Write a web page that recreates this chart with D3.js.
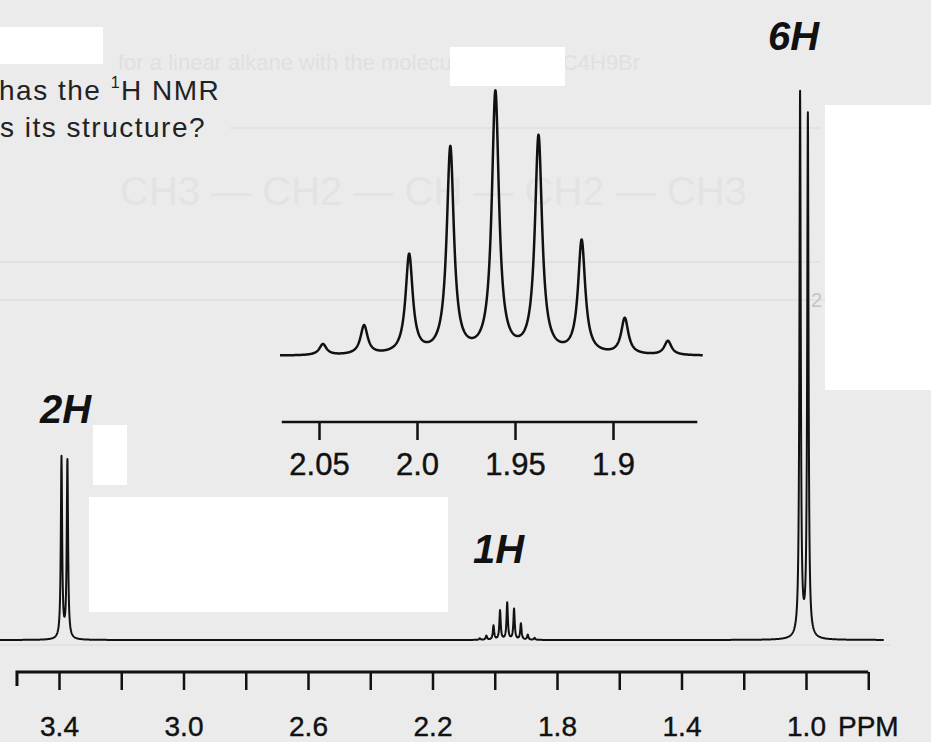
<!DOCTYPE html>
<html>
<head>
<meta charset="utf-8">
<script src="https://cdn.jsdelivr.net/npm/d3@7"></script>
<style>
  html, body { margin: 0; padding: 0; background: #ebebeb; }
  svg { display: block; font-family: "Liberation Sans", Arial, sans-serif; }
</style>
</head>
<body>
<div id="chart"></div>
<script>
// main spectrum: axis ticks and labels (ppm)
const tickPpm = [3.4, 3.2, 3.0, 2.8, 2.6, 2.4, 2.2, 2.0, 1.8, 1.6, 1.4, 1.2, 1.0, 0.8];
const labelPpm = [3.4, 3.0, 2.6, 2.2, 1.8, 1.4, 1.0];
// doublets (2H and 6H), heights in % of tallest line
const peakPpm = [3.392, 3.373, 1.019, 0.994];
const peakHeight = [33.3, 32.7, 100, 96];
// 1H multiplet (inset), heights in % of its tallest line
const multPpm = [2.048, 2.027, 2.004, 1.983, 1.960, 1.938, 1.916, 1.894, 1.872];
const multHeight = [4.2, 11.1, 37.9, 78.9, 100, 83.1, 43.3, 13.8, 5.4];
const multMainScale = 6.8;   // multiplet top in the main trace, % of full scale
// inset axis
const insetTicks = [2.05, 2.0, 1.95, 1.9];
// integration labels
const groupLabels = ["2H", "1H", "6H"];

const W = 931, H = 742;

const svg = d3.select("#chart").append("svg")
  .attr("width", W).attr("height", H);

// scanned page look
svg.append("rect").attr("width", W).attr("height", H).attr("fill", "#ebebeb");

const ghost = svg.append("g").attr("stroke", "none");
ghost.append("text").attr("x", 118).attr("y", 70).attr("font-size", 22)
  .attr("fill", "#e0e0e0")
  .text("for a linear alkane with the molecular formula C4H9Br");
ghost.append("text").attr("x", 120).attr("y", 205).attr("font-size", 40)
  .attr("fill", "#e3e3e3")
  .text("CH3 — CH2 — CH — CH2 — CH3");
[[230, 128, 820], [0, 262, 820], [0, 300, 830], [0, 645, 890]].forEach(([a, yy, b]) => {
  ghost.append("line").attr("x1", a).attr("x2", b).attr("y1", yy).attr("y2", yy)
    .attr("stroke", "#e2e2e2").attr("stroke-width", 2);
});
ghost.append("text").attr("x", 811).attr("y", 307).attr("font-size", 20)
  .attr("fill", "#c4c4c4").text("2");

// white cover patches
const patches = [[0, 27, 103, 37], [450, 47, 115, 39], [825, 105, 106, 285],
                 [93, 425, 34, 60], [89, 497, 359, 115]];
svg.selectAll("rect.patch").data(patches).enter().append("rect")
  .attr("class", "patch")
  .attr("x", d => d[0]).attr("y", d => d[1])
  .attr("width", d => d[2]).attr("height", d => d[3])
  .attr("fill", "#ffffff");

// question text
const q = svg.append("g").attr("font-size", 28).attr("fill", "#222")
  .attr("letter-spacing", 1.5);
const t1 = q.append("text").attr("x", -1).attr("y", 100);
t1.append("tspan").text("has the ");
t1.append("tspan").attr("font-size", 16).attr("dy", -12).text("1");
t1.append("tspan").attr("dy", 12).text("H NMR");
q.append("text").attr("x", 0).attr("y", 137).text("s its structure?");

// scales
const x = d3.scaleLinear().domain([1.0, 3.4]).range([806, 59]);
const y = d3.scaleLinear().domain([0, 100]).range([640, 96]);
const xi = d3.scaleLinear().domain([2.0, 1.9]).range([417, 613]);
const yi = d3.scaleLinear().domain([0, 100]).range([356, 95]);

function lorentz(ppm, centers, heights, hw) {
  let v = 0;
  for (let i = 0; i < centers.length; i++) {
    const u = (ppm - centers[i]) / hw;
    v += heights[i] / (1 + u * u);
  }
  return v;
}

function sampleTrace(scale, px0, px1, centers, heights, hw) {
  const ppms = d3.range(px0, px1, 0.25).map(px => scale.invert(px))
    .concat(centers.filter(c => scale(c) > px0 && scale(c) < px1));
  ppms.sort((a, b) => scale(a) - scale(b));
  return ppms.map(p => ({ ppm: p, v: lorentz(p, centers, heights, hw) }));
}

// main trace
const mainCenters = peakPpm.concat(multPpm);
const mainHeights = peakHeight.concat(multHeight.map(h => h * multMainScale / 100));
const mainPts = sampleTrace(x, 0, 884, mainCenters, mainHeights, 0.0025);
svg.append("path")
  .datum(mainPts)
  .attr("fill", "none").attr("stroke", "#111").attr("stroke-width", 2)
  .attr("stroke-linejoin", "round")
  .attr("d", d3.line().x(d => x(d.ppm)).y(d => y(d.v)));

// main axis
const gx = svg.append("g").attr("transform", "translate(0,672)")
  .call(d3.axisBottom(x).tickValues(tickPpm).tickSize(18).tickSizeOuter(0).tickPadding(26)
    .tickFormat(d => labelPpm.includes(d) ? d.toFixed(1) : ""));
gx.select(".domain").attr("d", `M${x(3.535)},14V0H${x(0.8)}`)
  .attr("stroke", "#111").attr("stroke-width", 3);
gx.selectAll(".tick line").attr("stroke", "#111").attr("stroke-width", 2.5);
gx.selectAll(".tick text").attr("font-size", 28).attr("fill", "#111")
  .attr("stroke", "#111").attr("stroke-width", 0.4)
  .attr("font-family", "'Liberation Sans', Arial, sans-serif");
svg.append("text").attr("x", 838).attr("y", 736).attr("font-size", 28)
  .attr("fill", "#111").attr("stroke", "#111").attr("stroke-width", 0.4).text("PPM");

// inset trace
const insetPts = sampleTrace(xi, 280, 703, multPpm, multHeight, 0.0022);
svg.append("path")
  .datum(insetPts)
  .attr("fill", "none").attr("stroke", "#111").attr("stroke-width", 2.5)
  .attr("stroke-linejoin", "round")
  .attr("d", d3.line().x(d => xi(d.ppm)).y(d => yi(d.v)));

// inset axis
const gi = svg.append("g").attr("transform", "translate(0,422)")
  .call(d3.axisBottom(xi).tickValues(insetTicks).tickSize(18).tickSizeOuter(0).tickPadding(13)
    .tickFormat(d => d.toFixed(2).replace(/0$/, "")));
gi.select(".domain").attr("d", `M${xi(2.069)},0H${xi(1.857)}`)
  .attr("stroke", "#111").attr("stroke-width", 2.5);
gi.selectAll(".tick line").attr("stroke", "#111").attr("stroke-width", 2.5);
gi.selectAll(".tick text").attr("font-size", 31).attr("fill", "#111")
  .attr("stroke", "#111").attr("stroke-width", 0.4)
  .attr("font-family", "'Liberation Sans', Arial, sans-serif");

// integration labels
const labelPos = { "2H": [40, 423], "1H": [473, 563], "6H": [768, 50] };
svg.selectAll("text.integ").data(groupLabels).enter().append("text")
  .attr("class", "integ")
  .attr("x", d => labelPos[d][0]).attr("y", d => labelPos[d][1])
  .attr("font-size", 40).attr("font-weight", "bold").attr("font-style", "italic")
  .attr("fill", "#111")
  .text(d => d);
</script>
</body>
</html>
